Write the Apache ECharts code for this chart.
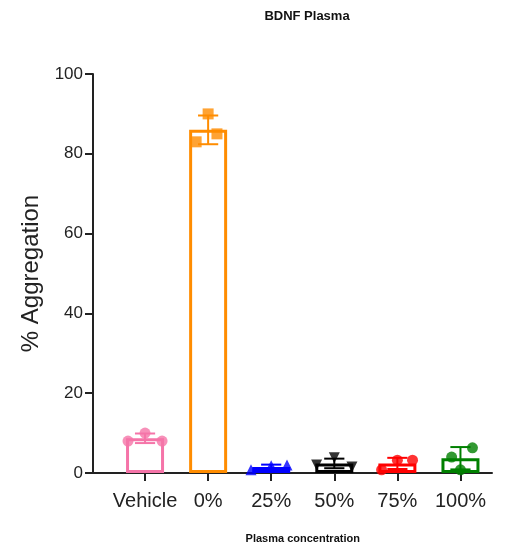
<!DOCTYPE html>
<html>
<head>
<meta charset="utf-8">
<script src="https://cdn.jsdelivr.net/npm/echarts@6/dist/echarts.min.js"></script>
<style>
  html, body { margin: 0; padding: 0; background: #fff; }
  #chart { width: 509px; height: 554px; }
</style>
</head>
<body>
<div id="chart"></div>
<script>
// groups on the x axis
const categories = ['Vehicle', '0%', '25%', '50%', '75%', '100%']
// bar heights (mean) and error bar half length (SD), % aggregation
const means = [8.7, 86, 1.5, 2.4, 2.4, 3.7]
const sds = [1.2, 3.6, 0.6, 1.2, 1.4, 2.8]
// individual replicate points: left / middle / right dot of each group
const repLeft = [8, 83, 0.8, 2.0, 0.8, 4.0]
const repMid = [10, 90, 1.8, 3.8, 3.2, 0.8]
const repRight = [8, 85, 2.0, 1.5, 3.2, 6.3]
const yTicks = [0, 20, 40, 60, 80, 100]

// styling
const colors = ['#f574a8', '#ff8c00', '#0000ff', '#000000', '#ff0000', '#008000']
const symbols = ['circle', 'rect', 'triangle', 'triangle', 'circle', 'circle']
const rotations = [0, 0, 0, 180, 0, 0]
// horizontal jitter (in category widths) for left / middle / right dots
const jitter = [
  [-0.27, 0, 0.27],
  [-0.19, 0, 0.14],
  [-0.32, 0, 0.25],
  [-0.28, 0, 0.28],
  [-0.25, 0, 0.24],
  [-0.14, 0, 0.19]
]
const font = 'Liberation Sans, Arial, Helvetica, sans-serif'
const gridTop = 74
const gridBottom = 81

const chart = echarts.init(document.getElementById('chart'))

const points = []
const reps = [repLeft, repMid, repRight]
categories.forEach((c, i) => {
  reps.forEach((r, k) => {
    points.push({
      value: [i + jitter[i][k], r[i]],
      symbol: symbols[i],
      symbolRotate: rotations[i],
      itemStyle: { color: colors[i] }
    })
  })
})

chart.setOption({
  animation: false,
  title: {
    text: 'BDNF Plasma',
    left: 302,
    textAlign: 'center',
    top: 5,
    textStyle: { fontFamily: font, fontSize: 13, fontWeight: 'bold', color: '#111' }
  },
  grid: [
    { left: 93, right: 17, top: gridTop, bottom: gridBottom },
    { left: 113.5, right: 17, top: gridTop, bottom: gridBottom }
  ],
  xAxis: [
    {
      // long baseline that starts at the y axis
      gridIndex: 0,
      type: 'value',
      min: 0,
      max: 1,
      axisLine: { show: true, lineStyle: { color: '#222', width: 2 } },
      axisTick: { show: false },
      axisLabel: { show: false },
      splitLine: { show: false }
    },
    {
      gridIndex: 1,
      type: 'category',
      data: categories,
      axisLine: { show: false },
      axisTick: { show: true, alignWithLabel: true, interval: 0, length: 8, lineStyle: { color: '#222', width: 2 } },
      axisLabel: { interval: 0, fontFamily: font, fontSize: 20, color: '#222', margin: 18 },
      name: 'Plasma concentration',
      nameLocation: 'middle',
      nameGap: 60,
      nameTextStyle: { fontFamily: font, fontSize: 11, fontWeight: 'bold', color: '#111' }
    },
    {
      // value axis matching the category bands, for dots and error bars
      gridIndex: 1,
      type: 'value',
      min: -0.5,
      max: 5.5,
      show: false
    }
  ],
  yAxis: [
    {
      gridIndex: 0,
      type: 'value',
      min: yTicks[0],
      max: yTicks[yTicks.length - 1],
      interval: 20,
      axisLine: { show: true, lineStyle: { color: '#222', width: 2 } },
      axisTick: { show: true, length: 8, lineStyle: { color: '#222', width: 2 } },
      axisLabel: { fontFamily: font, fontSize: 17, color: '#222', margin: 10 },
      splitLine: { show: false },
      name: '% Aggregation',
      nameLocation: 'middle',
      nameGap: 47,
      nameTextStyle: { fontFamily: font, fontSize: 24, color: '#222' }
    },
    {
      gridIndex: 1,
      type: 'value',
      min: 0,
      max: 100,
      show: false
    }
  ],
  series: [
    {
      type: 'bar',
      xAxisIndex: 1,
      yAxisIndex: 1,
      barWidth: 38,
      data: means.map((m, i) => ({
        value: m,
        itemStyle: { color: '#fff', borderColor: colors[i], borderWidth: 3 }
      }))
    },
    {
      type: 'custom',
      xAxisIndex: 2,
      yAxisIndex: 1,
      z: 3,
      data: means.map((m, i) => [i, m, sds[i]]),
      renderItem: (params, api) => {
        const i = api.value(0)
        const m = api.value(1)
        const s = api.value(2)
        const hi = api.coord([i, m + s])
        const lo = api.coord([i, Math.max(m - s, 0)])
        const half = api.size([0.16, 0])[0]
        const style = { stroke: colors[i], lineWidth: 2, fill: null }
        return {
          type: 'group',
          children: [
            { type: 'line', shape: { x1: hi[0], y1: hi[1], x2: lo[0], y2: lo[1] }, style },
            { type: 'line', shape: { x1: hi[0] - half, y1: hi[1], x2: hi[0] + half, y2: hi[1] }, style },
            { type: 'line', shape: { x1: lo[0] - half, y1: lo[1], x2: lo[0] + half, y2: lo[1] }, style }
          ]
        }
      }
    },
    {
      type: 'scatter',
      xAxisIndex: 2,
      yAxisIndex: 1,
      z: 4,
      symbolSize: 11,
      data: points
    }
  ]
})
</script>
</body>
</html>
